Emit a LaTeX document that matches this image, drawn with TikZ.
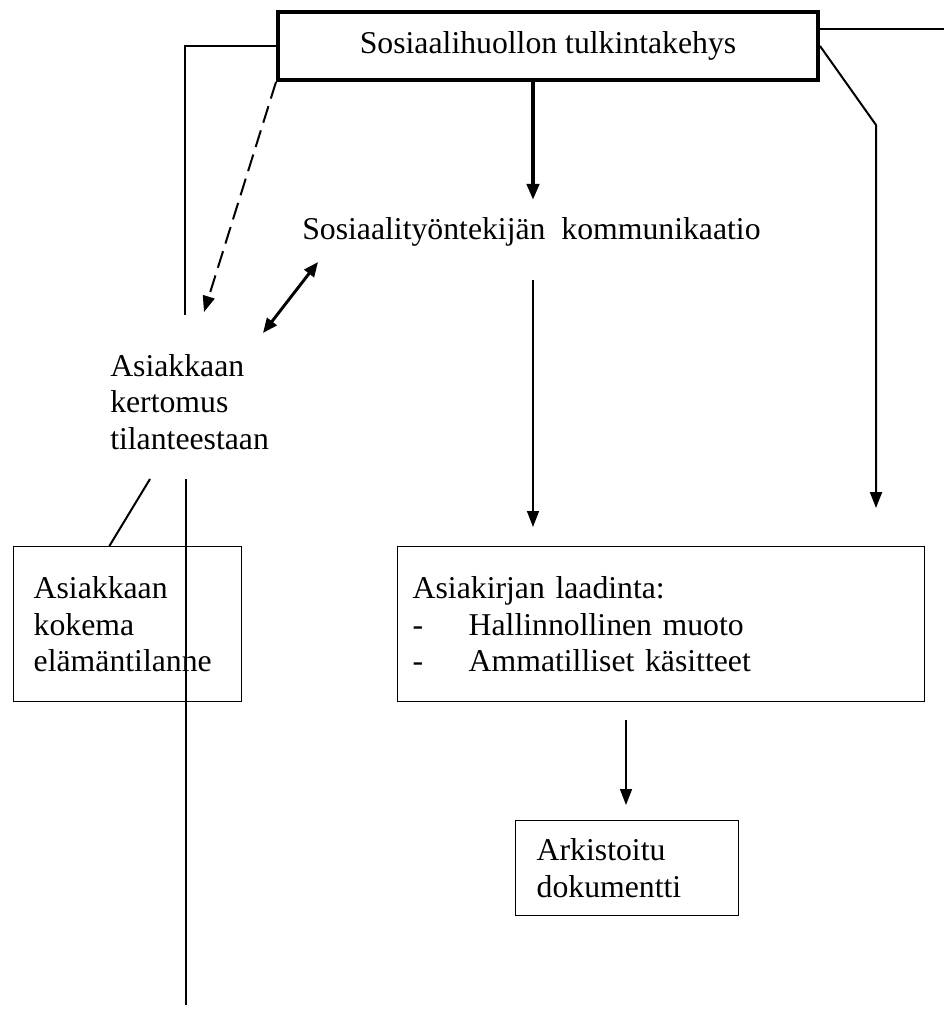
\documentclass[tikz,border=0pt]{standalone}
\usepackage{fontspec}
\setmainfont{Liberation Serif}
\usetikzlibrary{arrows.meta,calc}

\tikzset{
  txt/.style={font=\fontsize{23.8pt}{27.5pt}\selectfont, inner sep=0pt},
  box/.style={txt, draw, line width=1.1pt, align=left, anchor=north west},
  thin/.style={line width=1.1pt},
  tip/.style={-{Triangle[length=12pt,width=9pt]}}
}

\begin{document}
\begin{tikzpicture}[x=0.75pt,y=-0.75pt]
      \useasboundingbox (0,0) rectangle (944,1023);

      % boxes
      \node[txt, draw, line width=3pt, minimum width=405pt, minimum height=51pt] (frame) at (548,46) {Sosiaalihuollon tulkintakehys};
      \node[box, inner xsep=15pt, text width=141pt, minimum height=116.25pt] (kokema) at (13,546) {Asiakkaan\\kokema\\elämäntilanne};
      \node[box, inner xsep=11.25pt, text width=372.75pt, minimum height=116.25pt] (laadinta) at (397,546)
        {Asiakirjan laadinta:\\\makebox[42pt][l]{-}Hallinnollinen muoto\\\makebox[42pt][l]{-}Ammatilliset käsitteet};
      \node[box, inner xsep=15.75pt, text width=135.75pt, minimum height=71.25pt] (arkisto) at (515,820) {Arkistoitu\\dokumentti};

      % free texts
      \node[txt, anchor=base west] (tyontekija) at (302,240) {Sosiaalityöntekijän\ \ kommunikaatio};
      \node[txt, align=left, anchor=north west] (kertomus) at (110,354) {Asiakkaan\\kertomus\\tilanteestaan};

      % bends and loose ends
      \coordinate (lt) at (185,315);
      \coordinate (rt) at (944,29);
      \coordinate (rk) at (876,125);
      \coordinate (rb) at (876,508);
      \coordinate (dt) at (204,312);
      \coordinate (kt) at (533,200);
      \coordinate (wa) at (318,262);
      \coordinate (wb) at (263,333);
      \coordinate (ma) at (533,280);
      \coordinate (mb) at (533,527);
      \coordinate (aa) at (626,720);
      \coordinate (ab) at (626,805);
      \coordinate (ka) at (150,479);
      \coordinate (va) at (186,479);
      \coordinate (vb) at (186,1005);

      % connectors
      \draw[thin] (frame.west) -| (lt);
      \draw[thin] (frame.east |- rt) -- (rt);
      \draw[line width=1.5pt, tip] (frame.east) -- (rk) -- (rb);
      \draw[line width=1.5pt, dash pattern=on 13pt off 6pt, tip] (frame.south west) -- (dt);
      \draw[line width=3pt, tip] (kt |- frame.south) -- (kt);
      \draw[line width=2.2pt, {Triangle[length=11pt,width=9pt]}-{Triangle[length=11pt,width=9pt]}] (wa) -- (wb);
      \draw[thin, tip] (ma) -- (mb);
      \draw[thin, tip] (aa) -- (ab);
      \draw[line width=1.5pt] (ka) -- ($(kokema.north west)!0.42!(kokema.north east)$);
      \draw[thin] (va) -- (vb);

\end{tikzpicture}
\end{document}
